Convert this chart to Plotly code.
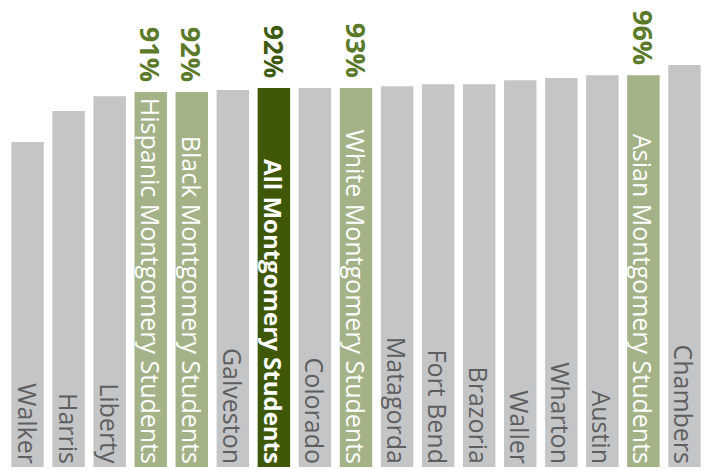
import plotly.graph_objects as go

categories = ["Walker", "Harris", "Liberty", "Hispanic Montgomery Students",
              "Black Montgomery Students", "Galveston", "All Montgomery Students",
              "Colorado", "White Montgomery Students", "Matagorda", "Fort Bend",
              "Brazoria", "Waller", "Wharton", "Austin", "Asian Montgomery Students",
              "Chambers"]
values = [78.9, 86.4, 90.0, 91.0, 91.0, 91.5, 92.0, 92.0, 92.0, 92.4, 92.9,
          92.9, 93.9, 94.4, 95.1, 95.1, 97.6]
pct_labels = ["", "", "", "91%", "92%", "", "92%", "", "93%", "", "", "",
              "", "", "", "96%", ""]
# group: 0 = county, 1 = Montgomery subgroup, 2 = all Montgomery
groups = [0, 0, 0, 1, 1, 0, 2, 0, 1, 0, 0, 0, 0, 0, 0, 1, 0]

GRAY = "#c4c5c7"
LIGHT = "#a4b387"
DARK = "#3e5808"
bar_colors = [GRAY if g == 0 else (LIGHT if g == 1 else DARK) for g in groups]
name_colors = ["#5e5e60" if g == 0 else "#ffffff" for g in groups]
name_sizes = [24 if g == 2 else 25 for g in groups]
name_texts = [f"<b>{c}</b>" if g == 2 else c for c, g in zip(categories, groups)]
pct_colors = ["#5a7a2a" if g != 2 else "#3e5a10" for g in groups]
pct_sizes = [26 if g == 2 else 27 for g in groups]
pct_texts = [f"<b>{t}</b>\u00a0" if t else "" for t in pct_labels]

FONT = "Open Sans"

fig = go.Figure()
fig.add_trace(go.Bar(
    x=categories, y=values,
    marker=dict(color=bar_colors, line=dict(width=0)),
    text=name_texts,
    textposition="inside",
    insidetextanchor="start",
    textangle=90,
    constraintext="none",
    insidetextfont=dict(family=FONT, size=name_sizes, color=name_colors),
    hoverinfo="skip",
))
fig.add_trace(go.Bar(
    x=categories, y=values,
    marker=dict(color="rgba(0,0,0,0)", line=dict(width=0)),
    text=pct_texts,
    textposition="outside",
    textangle=90,
    constraintext="none",
    cliponaxis=False,
    outsidetextfont=dict(family=FONT, size=pct_sizes, color=pct_colors),
    hoverinfo="skip",
))

fig.update_layout(
    width=705, height=469,
    margin=dict(l=7, r=0, t=0, b=2),
    barmode="overlay",
    bargap=0.21,
    showlegend=False,
    plot_bgcolor="white",
    paper_bgcolor="white",
    xaxis=dict(visible=False, range=[-0.5, 16.5]),
    yaxis=dict(visible=False, range=[0, 113.35]),
    uniformtext=dict(mode=False),
)

fig.write_html("out.html", config={"displayModeBar": False},
               post_script="document.body.style.margin='0px';")
